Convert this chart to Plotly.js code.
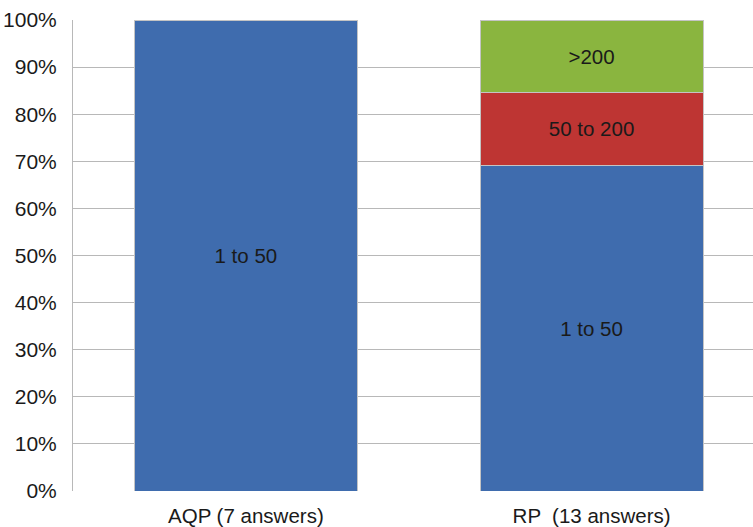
<!DOCTYPE html>
<html><head><meta charset="utf-8">
<script src="https://cdn.plot.ly/plotly-3.0.1.min.js"></script>
<style>html,body{margin:0;padding:0;background:#fff;overflow:hidden}</style>
</head><body>
<div id="chart" style="width:753px;height:527px"></div>
<script>
const categories = ["AQP (7 answers)", "RP  (13 answers)"];
const seriesNames = ["1 to 50", "50 to 200", ">200"];
const low = [100, 69.2];
const mid = [0, 15.4];
const high = [0, 15.4];
const colors = ["#3f6cae", "#be3533", "#8ab53f"];
const yTicks = [0,10,20,30,40,50,60,70,80,90,100];

const vals = [low, mid, high];
const traces = vals.map((v, i) => ({
  type: "bar",
  x: categories,
  y: v,
  name: seriesNames[i],
  text: v.map(d => d > 0 ? seriesNames[i] : ""),
  textposition: "inside",
  insidetextanchor: "middle",
  textangle: 0,
  textfont: {family: "Liberation Sans, Arial, sans-serif", size: 20.5, color: "#1a1a1a"},
  marker: {color: colors[i], line: {color: "#c4c4c4", width: 1}},
  hoverinfo: "none"
}));

const layout = {
  width: 753, height: 527,
  margin: {l: 73, r: 0, t: 20, b: 36},
  barmode: "stack",
  bargap: 0.355,
  showlegend: false,
  paper_bgcolor: "#fff", plot_bgcolor: "#fff",
  font: {family: "Liberation Sans, Arial, sans-serif", size: 21, color: "#1a1a1a"},
  xaxis: {
    range: [-0.5, 1.467],
    showgrid: false, zeroline: false, showline: false,
    ticks: "outside", ticklen: 6, tickcolor: "rgba(0,0,0,0)",
    tickfont: {size: 20.5, color: "#1a1a1a"}
  },
  yaxis: {
    range: [0, 100],
    tickvals: yTicks,
    ticktext: yTicks.map(t => t + "%"),
    showgrid: true, gridcolor: "#b8b8b8", gridwidth: 1,
    zeroline: false,
    showline: true, linecolor: "#b8b8b8", linewidth: 1,
    ticks: "outside", ticklen: 11, tickcolor: "rgba(0,0,0,0)",
    tickfont: {size: 21, color: "#1a1a1a"}
  }
};
Plotly.newPlot("chart", traces, layout, {displayModeBar: false, staticPlot: true});
</script>
</body></html>
